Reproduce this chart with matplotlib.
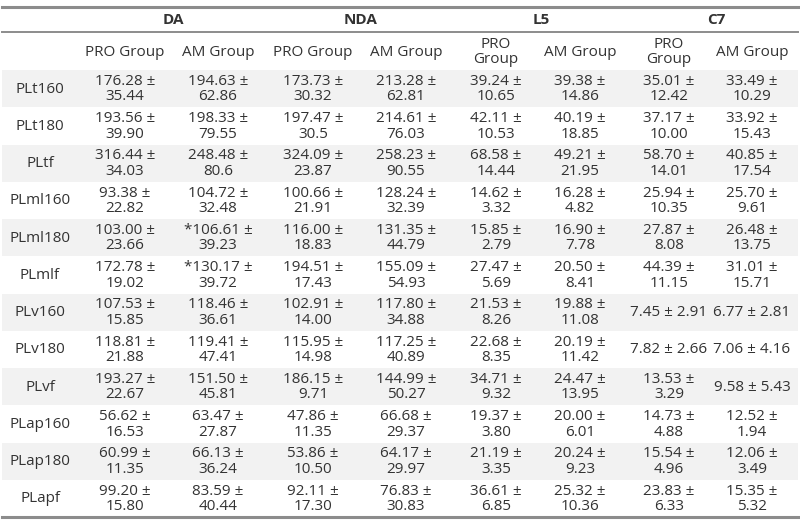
import matplotlib.pyplot as plt

plt.rcParams['font.family'] = ['Open Sans', 'DejaVu Sans']

# 표 데이터
groups = ['DA', 'NDA', 'L5', 'C7']
sub_headers = ['PRO Group', 'AM Group', 'PRO Group', 'AM Group',
               'PRO\nGroup', 'AM Group', 'PRO\nGroup', 'AM Group']
row_labels = ['PLt160', 'PLt180', 'PLtf', 'PLml160', 'PLml180', 'PLmlf',
              'PLv160', 'PLv180', 'PLvf', 'PLap160', 'PLap180', 'PLapf']

means = [
    ['176.28', '194.63', '173.73', '213.28', '39.24', '39.38', '35.01', '33.49'],
    ['193.56', '198.33', '197.47', '214.61', '42.11', '40.19', '37.17', '33.92'],
    ['316.44', '248.48', '324.09', '258.23', '68.58', '49.21', '58.70', '40.85'],
    ['93.38', '104.72', '100.66', '128.24', '14.62', '16.28', '25.94', '25.70'],
    ['103.00', '*106.61', '116.00', '131.35', '15.85', '16.90', '27.87', '26.48'],
    ['172.78', '*130.17', '194.51', '155.09', '27.47', '20.50', '44.39', '31.01'],
    ['107.53', '118.46', '102.91', '117.80', '21.53', '19.88', '7.45', '6.77'],
    ['118.81', '119.41', '115.95', '117.25', '22.68', '20.19', '7.82', '7.06'],
    ['193.27', '151.50', '186.15', '144.99', '34.71', '24.47', '13.53', '9.58'],
    ['56.62', '63.47', '47.86', '66.68', '19.37', '20.00', '14.73', '12.52'],
    ['60.99', '66.13', '53.86', '64.17', '21.19', '20.24', '15.54', '12.06'],
    ['99.20', '83.59', '92.11', '76.83', '36.61', '25.32', '23.83', '15.35'],
]
sds = [
    ['35.44', '62.86', '30.32', '62.81', '10.65', '14.86', '12.42', '10.29'],
    ['39.90', '79.55', '30.5', '76.03', '10.53', '18.85', '10.00', '15.43'],
    ['34.03', '80.6', '23.87', '90.55', '14.44', '21.95', '14.01', '17.54'],
    ['22.82', '32.48', '21.91', '32.39', '3.32', '4.82', '10.35', '9.61'],
    ['23.66', '39.23', '18.83', '44.79', '2.79', '7.78', '8.08', '13.75'],
    ['19.02', '39.72', '17.43', '54.93', '5.69', '8.41', '11.15', '15.71'],
    ['15.85', '36.61', '14.00', '34.88', '8.26', '11.08', '2.91', '2.81'],
    ['21.88', '47.41', '14.98', '40.89', '8.35', '11.42', '2.66', '4.16'],
    ['22.67', '45.81', '9.71', '50.27', '9.32', '13.95', '3.29', '5.43'],
    ['16.53', '27.87', '11.35', '29.37', '3.80', '6.01', '4.88', '1.94'],
    ['11.35', '36.24', '10.50', '29.97', '3.35', '9.23', '4.96', '3.49'],
    ['15.80', '40.44', '17.30', '30.83', '6.85', '10.36', '6.33', '5.32'],
]

# 레이아웃 (픽셀 단위)
x_left, x_right = 2, 798
label_x = 40
col_x = [125, 218, 313, 406, 496, 580, 669, 752]
group_x = [173, 361, 541, 716]
top_y = 7
head1_bot = 32
head2_bot = 70
bottom_y = 517
row_h = (bottom_y - head2_bot) / len(row_labels)
text_color = '#333333'
fs = 11

fig = plt.figure(figsize=(8, 5.22), dpi=100)
ax = fig.add_axes([0, 0, 1, 1])
ax.set_xlim(0, 800)
ax.set_ylim(522, 0)
ax.axis('off')

# 줄무늬 배경
for r in range(len(row_labels)):
    y0 = head2_bot + r * row_h
    if r % 2 == 0:
        ax.add_patch(plt.Rectangle((x_left, y0), x_right - x_left, row_h,
                                   facecolor='#f2f2f2', edgecolor='none'))

# 가로선
ax.plot([x_left, x_right], [top_y, top_y], color='#8c8c8c', lw=2.2)
ax.plot([x_left, x_right], [head1_bot, head1_bot], color='#8c8c8c', lw=1.4)
ax.plot([x_left, x_right], [bottom_y, bottom_y], color='#8c8c8c', lw=2.2)

# 그룹 헤더
for gx, name in zip(group_x, groups):
    ax.text(gx, (top_y + head1_bot) / 2 + 1, name, ha='center', va='center',
            fontsize=fs, fontweight='bold', color=text_color)

# 서브 헤더
for cx, h in zip(col_x, sub_headers):
    ax.text(cx, (head1_bot + head2_bot) / 2 + 1, h, ha='center', va='center',
            fontsize=fs, color=text_color, linespacing=1.05)

# 본문
for r, lab in enumerate(row_labels):
    yc = head2_bot + (r + 0.5) * row_h + 0.5
    ax.text(label_x, yc, lab, ha='center', va='center', fontsize=fs, color=text_color)
    for j, cx in enumerate(col_x):
        s = means[r][j] + ' \u00b1 ' + sds[r][j]
        if len(s) > 11:
            s = means[r][j] + ' \u00b1\n' + sds[r][j]
        ax.text(cx, yc, s, ha='center', va='center', fontsize=fs,
                color=text_color, linespacing=1.05)

plt.savefig('out.png', dpi=100)
